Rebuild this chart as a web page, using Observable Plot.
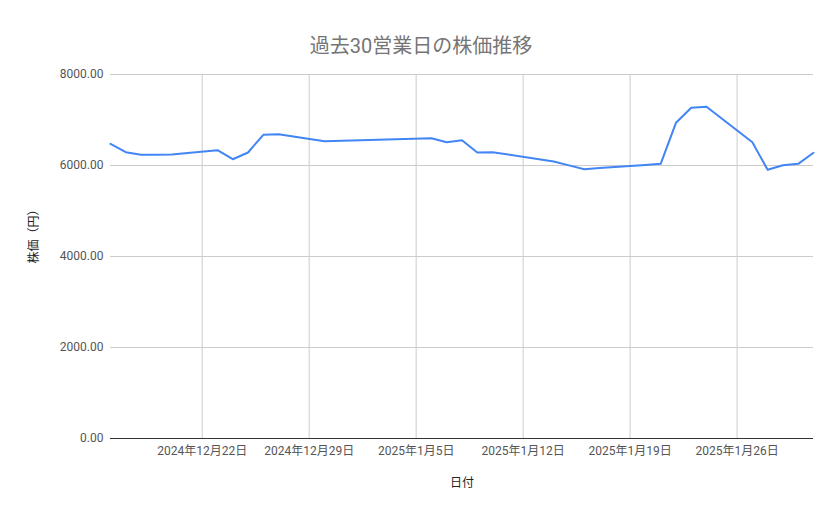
<!DOCTYPE html>
<html>
<head>
<meta charset="utf-8">
<script src="https://cdn.jsdelivr.net/npm/d3@7"></script>
<script src="https://cdn.jsdelivr.net/npm/@observablehq/plot@0.6"></script>
<style>
  html, body { margin: 0; padding: 0; background: #fff; }
  #chart svg { display: block; }
</style>
</head>
<body>
<div id="chart"></div>
<script>
const titleText = "過去30営業日の株価推移";
const xLabel = "日付";
const yLabel = "株価（円）";

const dates = [
  "2024-12-16","2024-12-17","2024-12-18","2024-12-19","2024-12-20",
  "2024-12-23","2024-12-24","2024-12-25","2024-12-26","2024-12-27",
  "2024-12-30",
  "2025-01-06","2025-01-07","2025-01-08","2025-01-09","2025-01-10",
  "2025-01-14","2025-01-15","2025-01-16","2025-01-17",
  "2025-01-20","2025-01-21","2025-01-22","2025-01-23","2025-01-24",
  "2025-01-27","2025-01-28","2025-01-29","2025-01-30","2025-01-31"
];
const prices = [
  6477, 6292, 6235, 6235, 6240,
  6336, 6138, 6286, 6675, 6688,
  6534,
  6600, 6512, 6556, 6286, 6292,
  6088, 6003, 5919, 5943,
  6013, 6037, 6938, 7268, 7290,
  6512, 5905, 6007, 6037, 6279
];
const xTicks = ["2024-12-22","2024-12-29","2025-01-05","2025-01-12","2025-01-19","2025-01-26"];
const yTicks = [0, 2000, 4000, 6000, 8000];
const xDomain = ["2024-12-16", "2025-01-31"];

const parse = s => { const [y, m, d] = s.split("-").map(Number); return new Date(Date.UTC(y, m - 1, d)); };
const data = dates.map((d, i) => ({date: parse(d), price: prices[i]}));
const fmtDate = d => `${d.getUTCFullYear()}年${d.getUTCMonth() + 1}月${d.getUTCDate()}日`;

const font = "Roboto, 'Noto Sans CJK JP', sans-serif";

const chart = Plot.plot({
  width: 839,
  height: 519,
  marginLeft: 110,
  marginRight: 26,
  marginTop: 74,
  marginBottom: 81,
  style: {fontFamily: font, fontSize: "12px", color: "#444", background: "#fff"},
  x: {type: "utc", domain: xDomain.map(parse), ticks: xTicks.map(parse), tickFormat: fmtDate, label: null},
  y: {domain: [0, 8000], ticks: yTicks, tickFormat: d => d.toFixed(2), label: null},
  marks: [
    Plot.gridY(yTicks, {stroke: "#cccccc", strokeOpacity: 1}),
    Plot.gridX(xTicks.map(parse), {stroke: "#cccccc", strokeOpacity: 1}),
    Plot.axisX(xTicks.map(parse), {tickSize: 0, tickPadding: 8, tickFormat: fmtDate, fill: "#555", fontSize: 12, label: null}),
    Plot.axisY(yTicks, {tickSize: 0, tickPadding: 7, tickFormat: d => d.toFixed(2), fill: "#555", fontSize: 12, label: null}),
    Plot.ruleY([0], {stroke: "#333", strokeWidth: 1.2}),
    Plot.line(data, {x: "date", y: "price", stroke: "#4285F4", strokeWidth: 2, curve: "linear"}),
    Plot.text([titleText], {frameAnchor: "top", dx: -41, dy: -36, fontSize: 20, fill: "#757575", text: d => d}),
    Plot.text([xLabel], {frameAnchor: "bottom", dy: 48, fontSize: 12, fill: "#222", text: d => d}),
    Plot.text([yLabel], {frameAnchor: "left", dx: -76, dy: 7, rotate: -90, fontSize: 12, fill: "#222", text: d => d})
  ]
});
document.getElementById("chart").append(chart);
</script>
</body>
</html>
